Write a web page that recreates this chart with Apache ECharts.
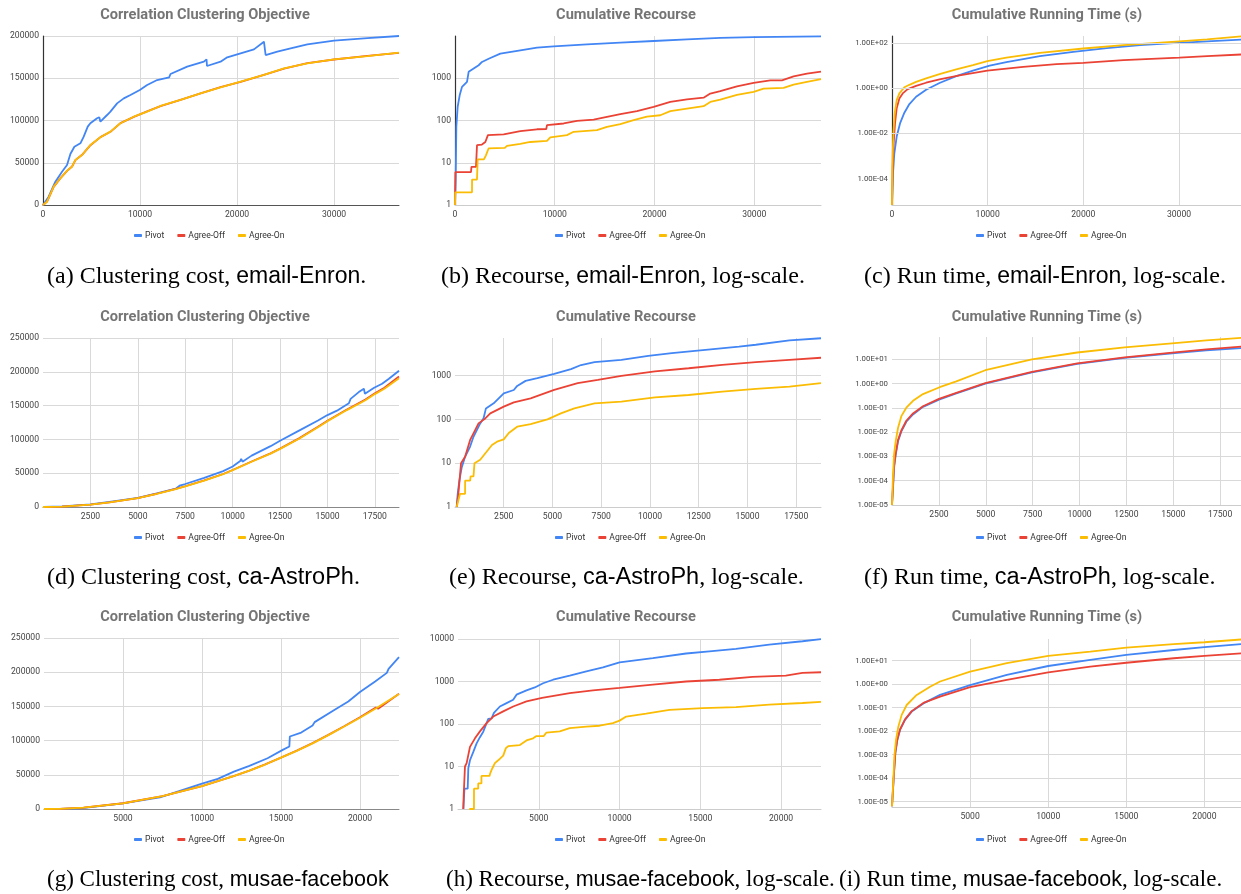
<!DOCTYPE html>
<html><head><meta charset="utf-8">
<script src="https://cdn.jsdelivr.net/npm/echarts@6/dist/echarts.min.js"></script>
<style>html,body{margin:0;padding:0;background:#fff}#c{width:1241px;height:894px}</style>
</head><body><div id="c"></div>
<script>
// ---------- DATA ----------
const seriesNames = ['Pivot', 'Agree-Off', 'Agree-On'];
const chartTitles = ['Correlation Clustering Objective', 'Cumulative Recourse', 'Cumulative Running Time (s)'];
const nodeCounts = [36692, 18772, 22470];           // x-axis extent per dataset (row)
const xTickSteps = [10000, 2500, 5000];
const cTimeGridTicks = [1e-4, 1e-2, 1, 100];         // labelled ticks of panel (c)

// (a) email-Enron clustering cost
const aPivot = [[0,0],[585,9900],[1273,27600],[1961,39400],[2477,47300],[2650,49000],[2821,60400],[3234,69000],[3853,73000],[4197,80900],[4610,92700],[4880,96700],[5057,94700],[5573,102600],[5800,103800],[5917,98600],[6605,106500],[6949,110500],[7637,120300],[8325,126200],[9013,130200],[9976,136100],[10733,142000],[11765,147900],[13000,151000],[13141,155000],[14861,163700],[16581,169600],[16856,172400],[16900,164500],[18301,169600],[18989,174800],[20365,179500],[21741,184200],[22773,193300],[22945,177500],[24149,181500],[25525,185400],[27245,190100],[29997,194500],[33437,197600],[36692,200000]];
const aOff = [[0,0],[420,4000],[1100,21500],[1800,31800],[2480,40400],[3000,45600],[3340,53100],[4030,59400],[4890,70800],[5920,80300],[6950,86600],[7980,96900],[9360,104300],[10730,110700],[12110,117000],[14170,124500],[16240,132000],[18300,139500],[20370,145800],[22770,154100],[24840,161500],[27250,167900],[30000,172200],[33440,176500],[36692,180100]];
const aOn = [[0,0],[413,3900],[1101,21700],[1789,31600],[2477,40600],[2993,45400],[3337,53300],[4025,59200],[4885,71000],[5917,80100],[6949,86800],[7981,96700],[9357,104500],[10733,110500],[12109,117200],[14173,124300],[16237,132200],[18301,139300],[20365,146000],[22773,153900],[24837,161700],[27245,167700],[29997,172400],[33437,176300],[36692,180300]];

// (b) email-Enron recourse
const bPivot = [[0,1],[67,3.9],[134,71],[267,210],[468,395],[702,625],[1203,820],[1370,1420],[1871,1700],[2372,2030],[2706,2430],[3375,2900],[4544,3840],[6549,4590],[8219,5300],[9890,5700],[13231,6330],[16572,6960],[19913,7620],[23254,8330],[26595,9000],[29936,9400],[36692,9750]];
const bOff = [[0,1],[40,6],[1604,6],[1650,8],[2105,8],[2205,26],[2700,27],[3040,31],[3300,45],[4878,47],[5000,51],[6549,56],[8219,62],[9150,63],[9221,78],[10892,85],[12228,98],[13898,105],[15234,122],[16572,141],[18242,167],[19913,210],[21583,275],[23254,318],[24924,347],[25592,434],[26595,493],[28265,644],[29936,774],[31606,895],[32775,895],[33945,1110],[35282,1290],[36692,1440]];
const bOn = [[0,1],[30,2],[1704,2],[1710,4],[2205,4],[2272,12],[2900,12],[3100,15],[3375,22],[5000,22.5],[5212,25],[6549,28],[7551,31],[9221,33],[9556,40],[11226,45],[11894,54],[14233,59],[15234,71],[16572,82],[17908,102],[19244,124],[20581,133],[21583,167],[23254,191],[24924,218],[25592,275],[26595,313],[28265,405],[29936,475],[30938,570],[32942,590],[33945,710],[35282,820],[36692,950]];

// (c) email-Enron running time
const cPivot = [[0,7.1e-6],[105,1.8e-4],[245,1.35e-3],[490,7.4e-3],[839,0.028],[1294,0.083],[1818,0.2],[2518,0.42],[3567,0.85],[4966,1.7],[6714,3.4],[8463,6.0],[10211,9.8],[11960,14.1],[15457,25.7],[18954,39.8],[22451,58.9],[25947,79.4],[29444,97.7],[32941,117],[36692,141]];
const cOff = [[0,7.1e-6],[70,2.5e-4],[175,3.7e-3],[315,0.028],[490,0.129],[770,0.355],[1119,0.59],[1643,0.91],[2518,1.26],[3567,1.74],[4966,2.45],[7064,3.7],[9967,5.9],[13708,8.7],[17205,11.5],[20003,13.2],[24200,17.4],[30039,22.4],[32941,25.7],[36692,30.9]];
const cOn = [[0,7.1e-6],[35,3.5e-4],[140,0.0102],[280,0.078],[490,0.3],[770,0.59],[1294,1.1],[1818,1.41],[2518,1.9],[3567,2.7],[4966,4.2],[6714,6.8],[8463,10.5],[9967,15.5],[11960,22.4],[15457,36.3],[20003,56.2],[24200,79.4],[30039,117],[32941,141],[36692,195]];

// (d) ca-AstroPh clustering cost
const dPivot = [[0,0],[1000,800],[2500,4000],[3500,7500],[5000,13500],[6000,20000],[7000,27000],[7200,31500],[7500,34000],[8500,43000],[9500,53000],[10000,60000],[10400,68000],[10450,71000],[10520,67000],[11000,76000],[12000,90000],[12500,98000],[13500,113000],[14500,128000],[15000,136000],[15500,142500],[16130,153500],[16220,160000],[16650,170000],[16920,175000],[16975,167600],[17460,176500],[17880,182400],[18240,189700],[18772,201500]];
const dOff = [[0,0],[1000,520],[2500,3450],[3500,6900],[5000,13100],[6000,19600],[7000,26700],[7500,30700],[8500,39300],[9500,48800],[10000,54800],[11000,67300],[12000,79400],[12500,86400],[13500,101500],[14500,118600],[15000,127700],[16000,143800],[17000,159000],[17500,168200],[18000,176300],[18772,193000]];
const dOn = [[0,0],[1000,500],[2500,3400],[3500,6800],[5000,13000],[6000,19500],[7000,26500],[7500,30500],[8500,39000],[9500,48500],[10000,54500],[11000,67000],[12000,79000],[12500,86000],[13500,101000],[14500,118000],[15000,127000],[16000,143000],[17000,158000],[17500,167000],[18000,175000],[18772,190500]];

// (e) ca-AstroPh recourse
const ePivot = [[86,1],[138,2],[224,4],[345,8],[517,14],[776,24],[948,40],[1293,81],[1465,106],[1550,110],[1586,178],[1983,233],[2500,394],[3017,468],[3189,580],[3620,757],[4224,870],[5086,1090],[5948,1400],[6465,1740],[7155,2030],[8534,2290],[9913,2800],[11120,3240],[12844,3860],[14568,4600],[15430,5050],[17154,6330],[18772,7100]];
const eOff = [[86,1],[172,2],[310,10],[517,14],[776,34],[948,48],[1207,81],[1552,105],[1810,137],[2500,195],[3017,245],[3879,302],[5086,470],[6293,670],[7327,795],[8534,985],[10258,1240],[11982,1470],[13706,1760],[15430,2030],[17154,2290],[18772,2550]];
const eOn = [[86,1],[259,2],[517,2],[520,4],[776,4],[800,5],[948,5],[1000,10],[1293,12],[1465,15],[1896,26],[2155,31],[2500,35],[2758,49],[3189,68],[3879,78],[4741,100],[5431,137],[6120,178],[7155,233],[8534,254],[10258,318],[11982,360],[13706,430],[15430,495],[17154,560],[18772,670]];

// (f) ca-AstroPh running time
const fPivot = [[0,1e-5],[53,4.6e-5],[107,3.2e-4],[196,1.15e-3],[320,4.2e-3],[498,0.0107],[764,0.0269],[1120,0.0537],[1653,0.11],[2505,0.219],[3430,0.398],[4976,1.0],[7463,2.88],[9880,6.46],[12403,11.5],[15087,18.2],[16757,23.4],[18772,29.5]];
const fOff = [[0,1e-5],[53,6.3e-5],[107,4.0e-4],[196,1.32e-3],[320,4.7e-3],[498,0.0117],[764,0.0295],[1120,0.0589],[1653,0.117],[2505,0.234],[3430,0.417],[4976,1.05],[7463,3.02],[9880,6.76],[12403,12.0],[15087,19.5],[16757,25.7],[18772,33.9]];
const fOn = [[0,1e-5],[53,1.66e-4],[107,1.15e-3],[196,4.2e-3],[320,0.0148],[498,0.0457],[764,0.102],[1120,0.195],[1653,0.37],[2541,0.71],[3430,1.23],[4976,3.55],[7463,10],[9880,19.1],[12403,30.9],[15087,46.8],[16757,60.3],[18772,77.6]];

// (g) musae-facebook clustering cost
const gPivot = [[0,0],[1000,300],[2447,1200],[5000,8300],[7340,17100],[10000,37000],[11000,44000],[12020,54700],[13000,63000],[14150,74200],[15110,86400],[15530,91300],[15560,106000],[16280,111800],[17000,122000],[17130,127000],[17200,124500],[18400,145000],[19260,157200],[20000,171000],[20960,186500],[21700,199000],[21810,205000],[22470,222000]];
const gOff = [[0,0],[1000,310],[2500,2150],[5000,8400],[7500,18800],[10000,33600],[12000,48200],[13000,56200],[14000,65200],[15000,75200],[16000,85300],[17000,96300],[18000,108400],[19000,121000],[20000,134200],[21000,148500],[21150,146500],[22470,168500]];
const gOn = [[0,0],[1000,300],[2500,2100],[5000,8300],[7500,18700],[10000,33500],[12000,48000],[13000,56000],[14000,65000],[15000,75000],[16000,85000],[17000,96000],[18000,108000],[19000,120500],[20000,133500],[21000,147000],[22470,168000]];

// (h) musae-facebook recourse
const hPivot = [[329,1],[400,3],[600,3],[638,9],[741,14],[947,22],[1152,35],[1358,49],[1564,66],[1770,105],[1873,132],[2079,135],[2223,182],[2593,258],[3005,310],[3416,372],[3622,490],[4240,617],[4754,725],[5268,910],[5886,1100],[6915,1380],[7944,1740],[8973,2150],[10002,2830],[12060,3550],[14118,4560],[15559,5140],[17205,5830],[19263,7340],[21321,8860],[22470,9900]];
const hOff = [[329,1],[350,2],[432,10],[535,12],[741,29],[1050,46],[1358,67],[1770,105],[2182,150],[2799,198],[3416,258],[4240,340],[4857,387],[5200,410],[5300,450],[6915,535],[8355,617],[10002,705],[12060,840],[14118,1000],[16176,1100],[18234,1280],[20292,1380],[21321,1590],[22470,1650]];
const hOn = [[700,1],[988,1],[990,3],[1250,3],[1252,4],[1450,4],[1452,6],[1950,6],[2000,7],[2079,8.3],[2180,10],[2284,12],[2490,14],[2799,18],[2964,27],[3108,30],[3828,32],[4240,41],[4651,46],[4857,52],[5300,52],[5474,63],[6297,67],[6915,80],[7944,87],[8767,91],[9590,105],[10002,120],[10413,150],[11648,175],[13089,215],[15147,237],[17205,250],[19263,285],[21321,312],[22470,330]];

// (i) musae-facebook running time
const iPivot = [[0,6.3e-6],[128,1.62e-4],[214,1.15e-3],[342,4.2e-3],[513,0.0112],[833,0.0302],[1261,0.0676],[2009,0.151],[3077,0.347],[5000,0.912],[7351,2.45],[10000,5.89],[12694,10.7],[15000,17.4],[18036,28.2],[20000,37.2],[22470,51.3]];
const iOff = [[0,6.3e-6],[128,1.78e-4],[214,1.26e-3],[342,4.5e-3],[513,0.0117],[833,0.0316],[1261,0.0708],[2009,0.158],[3077,0.295],[5000,0.741],[7351,1.51],[10000,3.16],[12694,5.5],[15000,8.1],[18036,12.6],[20000,15.8],[22470,20.4]];
const iOn = [[0,6.3e-6],[85,8.3e-5],[150,8.1e-4],[256,4.2e-3],[406,0.0155],[620,0.049],[940,0.129],[1581,0.347],[2436,0.776],[3077,1.29],[5000,3.39],[7351,7.76],[10000,15.8],[12694,24],[15000,35.5],[18036,50.1],[20000,60.3],[22470,80]];

// captions: [serif part, sans dataset name, serif tail]
const captions = [
  ['(a) Clustering cost, ', 'email-Enron', '.'],
  ['(b) Recourse, ', 'email-Enron', ', log-scale.'],
  ['(c) Run time, ', 'email-Enron', ', log-scale.'],
  ['(d) Clustering cost, ', 'ca-AstroPh', '.'],
  ['(e) Recourse, ', 'ca-AstroPh', ', log-scale.'],
  ['(f) Run time, ', 'ca-AstroPh', ', log-scale.'],
  ['(g) Clustering cost, ', 'musae-facebook', ''],
  ['(h) Recourse, ', 'musae-facebook', ', log-scale.'],
  ['(i) Run time, ', 'musae-facebook', ', log-scale.']
];

// ---------- FORMATTERS ----------
function pow10Exp(v) { const e = Math.log10(v); const r = Math.round(e); return Math.abs(e - r) < 1e-6 ? r : null; }
const fmtPlain = v => String(Math.round(v));
const fmtRec = hideTop => v => { const r = pow10Exp(v); if (r === null) return ''; if (hideTop && r === 4) return ''; return String(Math.round(Math.pow(10, r))); };
const fmtTime = evenOnly => v => { const r = pow10Exp(v); if (r === null) return ''; if (evenOnly && r % 2 !== 0) return ''; return '1.00E' + (r < 0 ? '-' : '+') + String(Math.abs(r)).padStart(2, '0'); };
const fmtX = (step, zero) => v => { if (Math.abs(v % step) > 1e-6) return ''; if (v === 0 && !zero) return ''; return String(v); };

// ---------- LAYOUT / STYLE ----------
const colors = ['#4285F4', '#EA4335', '#FBBC04'];
const layout = [
  {grid:{left:43,top:36,width:356,height:169}, cx:205, ty:15, ly:231, capX:47, capY:277, serif:24, sans:23},
  {grid:{left:455,top:36,width:366,height:169}, cx:626, ty:15, ly:231, capX:441, capY:277, serif:24, sans:23},
  {grid:{left:892,top:36,width:351,height:169}, cx:1047, ty:15, ly:231, capX:864, capY:277, serif:24, sans:23},
  {grid:{left:43,top:338,width:356,height:169}, cx:205, ty:317, ly:533, capX:47, capY:578, serif:24, sans:23.5},
  {grid:{left:455,top:338,width:366,height:169}, cx:626, ty:317, ly:533, capX:449, capY:578, serif:24, sans:23.5},
  {grid:{left:892,top:337,width:352,height:168}, cx:1047, ty:317, ly:533, capX:864, capY:578, serif:24, sans:23.5},
  {grid:{left:44,top:638,width:355,height:171}, cx:205, ty:617, ly:835, capX:47, capY:880, serif:23, sans:21.5},
  {grid:{left:458,top:639,width:363,height:170}, cx:626, ty:617, ly:835, capX:446, capY:880, serif:23, sans:21.5},
  {grid:{left:892,top:639,width:351,height:168}, cx:1047, ty:617, ly:835, capX:839, capY:880, serif:23, sans:21.5}
];
const panels = [
  {data:[aPivot,aOff,aOn], kind:0, row:0, y:{type:'value',min:0,max:200000,interval:50000}, fmt:fmtPlain, yLine:true, xLine:'#555', top:true, ys:8.6},
  {data:[bPivot,bOff,bOn], kind:1, row:0, y:{type:'log',min:1,max:10000}, fmt:fmtRec(true), yLine:true, xLine:'#ccc', top:false, ys:8.6},
  {data:[cPivot,cOff,cOn], kind:2, row:0, y:{type:'log',min:Math.pow(10,-5.15),max:200}, fmt:fmtTime(true), yLine:true, xLine:'#ccc', top:false, ys:7.8, markGrid:true},
  {data:[dPivot,dOff,dOn], kind:0, row:1, y:{type:'value',min:0,max:250000,interval:50000}, fmt:fmtPlain, yLine:false, xLine:'#888', top:true, ys:8.6},
  {data:[ePivot,eOff,eOn], kind:1, row:1, y:{type:'log',min:1,max:7200}, fmt:fmtRec(false), yLine:false, xLine:'#ccc', top:false, ys:8.6},
  {data:[fPivot,fOff,fOn], kind:2, row:1, y:{type:'log',min:1e-5,max:83}, fmt:fmtTime(false), yLine:false, xLine:'#ccc', top:false, ys:7.8},
  {data:[gPivot,gOff,gOn], kind:0, row:2, y:{type:'value',min:0,max:250000,interval:50000}, fmt:fmtPlain, yLine:false, xLine:'#888', top:true, ys:8.6},
  {data:[hPivot,hOff,hOn], kind:1, row:2, y:{type:'log',min:1,max:10000}, fmt:fmtRec(false), yLine:false, xLine:'#ccc', top:true, ys:8.6},
  {data:[iPivot,iOff,iOn], kind:2, row:2, y:{type:'log',min:Math.pow(10,-5.23),max:83}, fmt:fmtTime(false), yLine:false, xLine:'#ccc', top:false, ys:7.8}
];

const FONT = 'Roboto';
const gridLineColor = '#d9d9d9';
const grids = [], xAxes = [], yAxes = [], series = [], legends = [], graphics = [];

panels.forEach((p, i) => {
  const L = layout[i];
  grids.push(Object.assign({containLabel:false, outerBoundsMode:'none'}, L.grid));
  const step = xTickSteps[p.row];
  xAxes.push({
    gridIndex:i, type:'value', min:0, max:nodeCounts[p.row], interval:step,
    axisLine:{show:true, lineStyle:{color:p.xLine, width:1}},
    axisTick:{show:false},
    axisLabel:{formatter:fmtX(step, p.row === 0), fontSize:8.6, color:'#444', margin:5, fontFamily:FONT},
    splitLine:{show:true, showMinLine:false, showMaxLine:false, lineStyle:{color:gridLineColor, width:1}}
  });
  const y = {
    gridIndex:i, type:p.y.type, min:p.y.min, max:p.y.max,
    axisLine:{show:p.yLine, lineStyle:{color:'#333', width:1.2}},
    axisTick:{show:false},
    axisLabel:{formatter:p.fmt, fontSize:p.ys, color:'#444', margin:4, fontFamily:FONT},
    splitLine:{show:!p.markGrid, showMinLine:false, showMaxLine:p.top, lineStyle:{color:gridLineColor, width:1}}
  };
  if (p.y.interval) y.interval = p.y.interval;
  yAxes.push(y);

  if (p.markGrid) {
    series.push({
      type:'line', name:'grid-' + i, xAxisIndex:i, yAxisIndex:i, data:[], z:1, silent:true,
      markLine:{silent:true, symbol:['none','none'], label:{show:false}, animation:false,
        lineStyle:{color:gridLineColor, width:1, type:'solid'},
        emphasis:{disabled:true},
        data:cTimeGridTicks.map(v => ({yAxis:v}))}
    });
  }
  p.data.forEach((d, k) => {
    series.push({
      type:'line', name:seriesNames[k], xAxisIndex:i, yAxisIndex:i, data:d,
      showSymbol:false, symbol:'none', z:2 + k,
      lineStyle:{color:colors[k], width:1.8}, itemStyle:{color:colors[k]},
      emphasis:{disabled:true}
    });
  });

  legends.push({
    data:seriesNames, left:L.cx - 76, top:L.ly - 5, orient:'horizontal',
    icon:'roundRect', itemWidth:8, itemHeight:3, itemGap:13, selectedMode:false,
    textStyle:{fontSize:8.6, color:'#333', fontFamily:FONT, padding:[0,0,0,-2]}
  });

  graphics.push({
    type:'text', x:L.cx, y:L.ty, silent:true,
    style:{text:chartTitles[p.kind], fill:'#757575', font:'bold 14.6px ' + FONT,
      align:'center', verticalAlign:'middle', textAlign:'center', textVerticalAlign:'middle'}
  });
  const c = captions[i];
  let txt = '{s|' + c[0] + '}{m|' + c[1] + '}';
  if (c[2]) txt += '{s|' + c[2] + '}';
  graphics.push({
    type:'text', x:L.capX, y:L.capY, silent:true,
    style:{text:txt, fill:'#000', align:'left', verticalAlign:'middle', textAlign:'left', textVerticalAlign:'middle',
      rich:{
        s:{fontFamily:'Liberation Serif', fontSize:L.serif, fill:'#000'},
        m:{fontFamily:'Liberation Sans', fontSize:L.sans, fill:'#000'}
      }}
  });
});

const chart = echarts.init(document.getElementById('c'), null, {renderer:'canvas'});
chart.setOption({
  animation:false,
  backgroundColor:'#ffffff',
  textStyle:{fontFamily:FONT},
  grid:grids, xAxis:xAxes, yAxis:yAxes, series:series, legend:legends,
  graphic:{elements:graphics},
  tooltip:{show:false}
});
</script>
</body></html>
